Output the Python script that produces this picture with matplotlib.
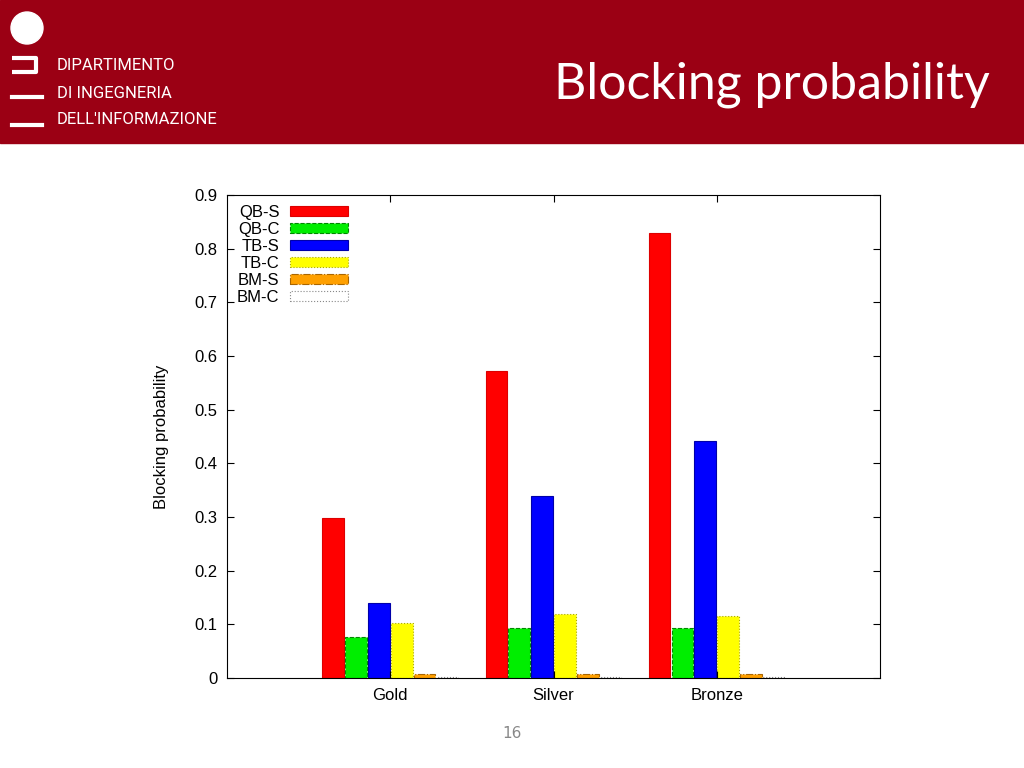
import matplotlib.pyplot as plt
from matplotlib.patches import Rectangle, Circle
import numpy as np

categories = ['Gold', 'Silver', 'Bronze']
series = ['QB-S', 'QB-C', 'TB-S', 'TB-C', 'BM-S', 'BM-C']
values = {
    'QB-S': [0.298, 0.572, 0.829],
    'QB-C': [0.077, 0.094, 0.094],
    'TB-S': [0.139, 0.339, 0.442],
    'TB-C': [0.102, 0.119, 0.116],
    'BM-S': [0.008, 0.007, 0.007],
    'BM-C': [0.002, 0.002, 0.002],
}
colors = ['#ff0000', '#00ee00', '#0000ff', '#ffff00', '#ffa000', '#ffffff']
edges = ['#dd0000', '#008800', '#0000aa', '#aaaa00', '#aa6600', '#888888']
styles = ['solid', 'dashed', 'solid', 'dotted', 'dashdot', 'dotted']

fig = plt.figure(figsize=(10.24, 7.68), dpi=100)

# header band
bg = fig.add_axes([0, 0, 1, 1])
bg.set_xlim(0, 1024)
bg.set_ylim(768, 0)
bg.axis('off')
bg.add_patch(Rectangle((0, 0), 1024, 143, color='#9b0014'))
bg.add_patch(Circle((27, 28), 16, color='white'))
bg.plot([12, 36, 36, 12], [58, 58, 72, 72], color='white', lw=3,
        solid_capstyle='butt')
for y in (97, 125):
    bg.plot([12, 42], [y, y], color='white', lw=3)
bg.text(57, 66, 'DIPARTIMENTO', color='white', fontsize=12, va='center',
        family='Roboto')
bg.text(57, 93, 'DI INGEGNERIA', color='white', fontsize=12, va='center',
        family='Roboto')
bg.text(57, 120, "DELL'INFORMAZIONE", color='white', fontsize=12, va='center',
        family='Roboto')
bg.text(990, 85, 'Blocking probability', color='white', fontsize=36,
        ha='right', va='center', family='Lato')
bg.text(512, 734, '16', color='#888888', fontsize=11, ha='center', va='center')

ax = fig.add_axes([227/1024, 1-678/768, 653/1024, 483/768])
x = np.arange(1, len(categories) + 1)
w = 0.14
for i, s in enumerate(series):
    ax.bar(x + (i - 2.5) * w, values[s], w * 0.95, color=colors[i], edgecolor=edges[i],
           linestyle=styles[i], linewidth=0.8, label=s)
ax.set_xlim(0, 4)
ax.set_ylim(0, 0.9)
ax.set_yticks(np.arange(0, 0.91, 0.1))
ax.set_yticklabels(['0'] + [f'{v:.1f}' for v in np.arange(0.1, 0.91, 0.1)],
                   family='Liberation Sans')
ax.set_xticks(x)
ax.set_xticklabels(categories, family='Liberation Sans')
ax.tick_params(direction='in', top=True, right=True, labelsize=12, length=5, pad=7)
ax.set_ylabel('Blocking probability', fontsize=12, family='Liberation Sans',
              labelpad=18)
ax.legend(loc='upper left', frameon=False, markerfirst=False,
          prop={'family': 'Liberation Sans', 'size': 12},
          handlelength=3.5, handleheight=0.6, labelspacing=0.12,
          borderaxespad=0.2, handletextpad=0.6)
fig.savefig('out.png', dpi=100)
